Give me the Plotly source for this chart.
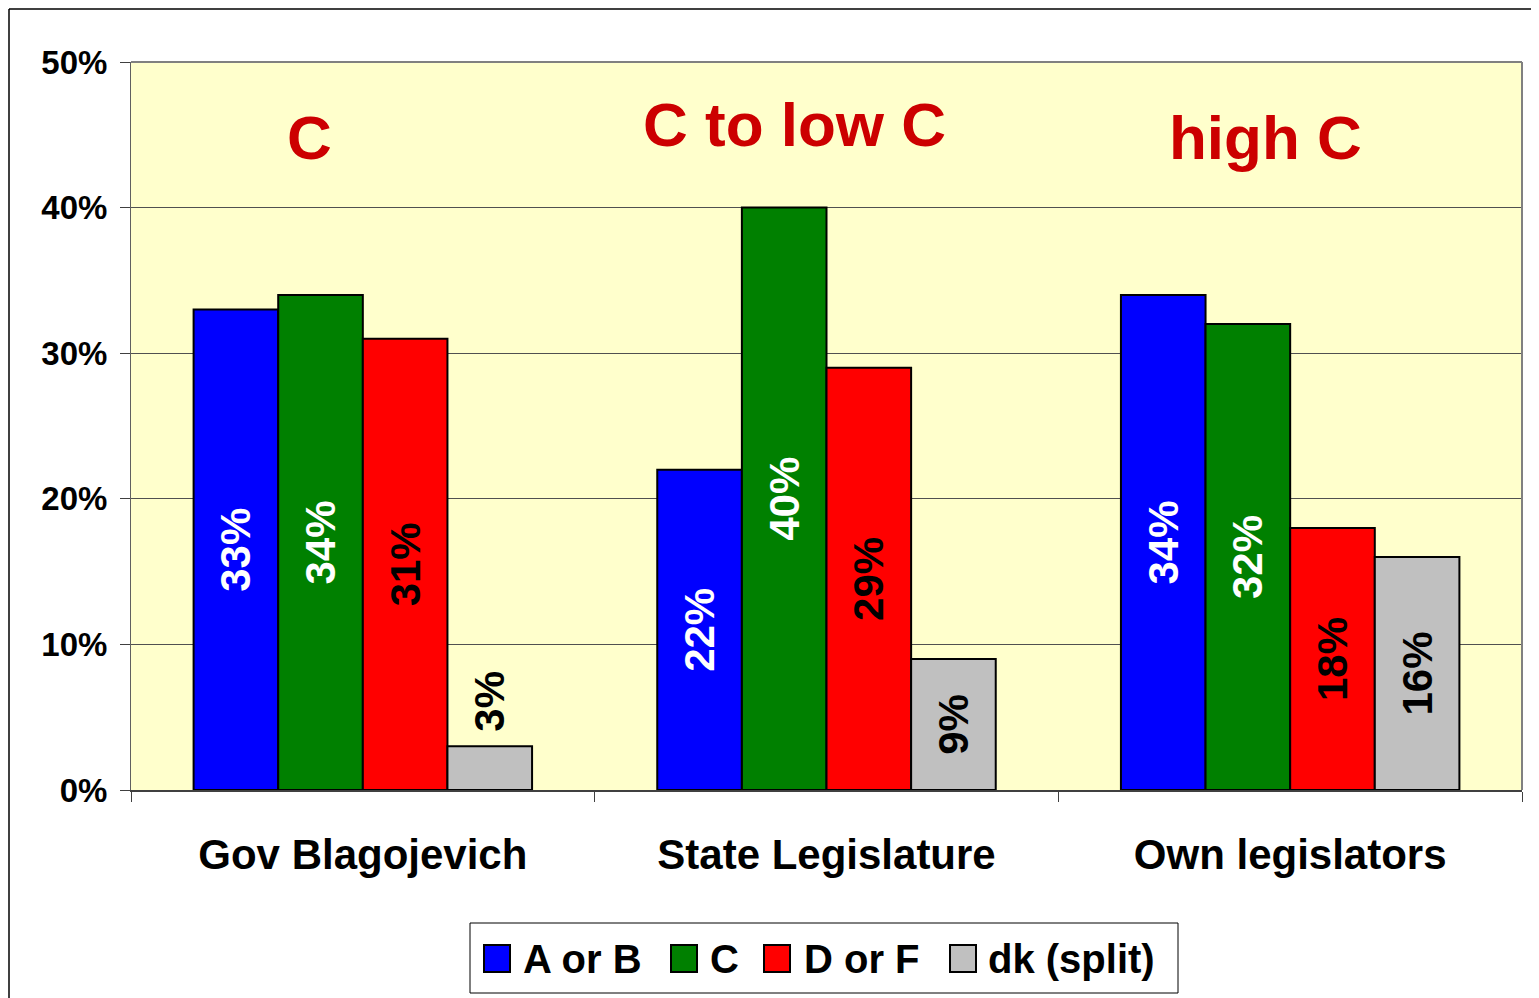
import plotly.graph_objects as go

categories = ["Gov Blagojevich", "State Legislature", "Own legislators"]
series_names = ["A or B", "C", "D or F", "dk (split)"]
a_or_b = [0.33, 0.22, 0.34]
c_grade = [0.34, 0.40, 0.32]
d_or_f = [0.31, 0.29, 0.18]
dk_split = [0.03, 0.09, 0.16]
grade_notes = ["C", "C to low C", "high C"]
y_ticks = [0, 0.1, 0.2, 0.3, 0.4, 0.5]

series_values = [a_or_b, c_grade, d_or_f, dk_split]
colors = ["#0000FF", "#008000", "#FF0000", "#C0C0C0"]
text_colors = ["white", "white", "black", "black"]
FONT = "Liberation Sans, Arial, sans-serif"

OFF = 8  # page body margin
W, H = 1539 - OFF, 998 - OFF
L, R, T, B = 131 - OFF, 17, 62 - OFF, 208
PW, PH = W - L - R, H - T - B

def px(x):
    return (x - OFF - L) / PW

def py(y):
    return (H - B - (y - OFF)) / PH

fig = go.Figure()
for name, vals, col, tcol in zip(series_names, series_values, colors, text_colors):
    positions = ["outside" if v < 0.05 else "inside" for v in vals]
    labels = [("\u00a0" if v < 0.05 else "") + f"{round(v * 100)}%" for v in vals]
    fig.add_trace(go.Bar(
        x=categories, y=vals, name=name,
        marker=dict(color=col, line=dict(color="black", width=2)),
        text=labels, textangle=-90,
        textposition=positions, insidetextanchor="middle",
        constraintext="none", cliponaxis=False,
        textfont=dict(family=FONT, size=42, color=tcol, weight="bold"),
        outsidetextfont=dict(family=FONT, size=42, color="black", weight="bold"),
        showlegend=False,
    ))

fig.update_layout(
    width=W, height=H,
    margin=dict(l=L, r=R, t=T, b=B),
    paper_bgcolor="white", plot_bgcolor="#FFFFCC",
    barmode="group", bargap=0.27, bargroupgap=0,
    font=dict(family=FONT, color="black"),
)
fig.update_yaxes(
    range=[0, 0.5], tickvals=y_ticks, tickformat=".0%",
    tickfont=dict(family=FONT, size=33, color="black", weight="bold"),
    ticks="outside", ticklen=10, tickcolor="#404040",
    showgrid=True, gridcolor="#505050", gridwidth=1,
    showline=True, linecolor="#606060", linewidth=1, zeroline=False,
    ticklabelstandoff=6,
)
fig.update_xaxes(
    tickfont=dict(family=FONT, size=42, color="black", weight="bold"),
    ticks="outside", ticklen=10, tickcolor="#404040", tickson="boundaries",
    showline=True, linecolor="#404040", linewidth=2,
    ticklabelstandoff=27,
)

# plot area top/right border
fig.add_shape(type="line", xref="paper", yref="paper", x0=0, x1=1, y0=1, y1=1,
              line=dict(color="#808080", width=2))
fig.add_shape(type="line", xref="paper", yref="paper", x0=1, x1=1, y0=0, y1=1,
              line=dict(color="#808080", width=2))

# outer chart border (left & top)
fig.add_shape(type="line", xref="paper", yref="paper", x0=px(9), x1=px(9), y0=py(1000), y1=py(9),
              line=dict(color="black", width=1.5))
fig.add_shape(type="line", xref="paper", yref="paper", x0=px(9), x1=px(1545), y0=py(9), y1=py(9),
              line=dict(color="black", width=1.5))

# grade annotations
note_pos = [(309, 138), (794, 124), (1265, 138)]
for txt, (x, y) in zip(grade_notes, note_pos):
    fig.add_annotation(text=txt, xref="paper", yref="paper", x=px(x), y=py(y),
                       showarrow=False, xanchor="center", yanchor="middle",
                       font=dict(family=FONT, size=62, color="#CC0000", weight="bold"))

# custom legend
fig.add_shape(type="rect", xref="paper", yref="paper", x0=px(470), x1=px(1178), y0=py(993), y1=py(923),
              line=dict(color="black", width=1), fillcolor="white")
sq = [484, 671, 764, 950]
tx = [521, 708, 802, 986]
for name, col, s, t in zip(series_names, colors, sq, tx):
    fig.add_shape(type="rect", xref="paper", yref="paper", x0=px(s), x1=px(s + 26), y0=py(972), y1=py(945),
                  line=dict(color="black", width=2), fillcolor=col)
    fig.add_annotation(text=name, xref="paper", yref="paper", x=px(t), y=py(959),
                       showarrow=False, xanchor="left", yanchor="middle",
                       font=dict(family=FONT, size=40, color="black", weight="bold"))

fig.write_html("out.html")
